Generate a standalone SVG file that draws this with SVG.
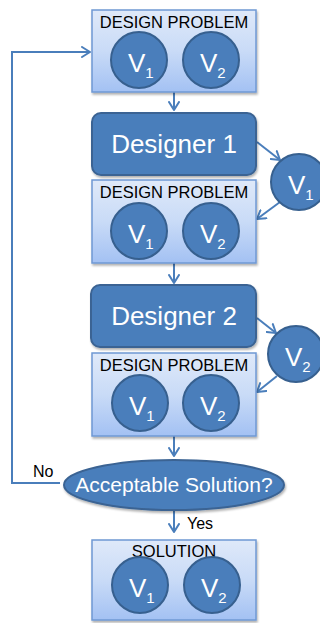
<svg xmlns="http://www.w3.org/2000/svg" width="320" height="623" viewBox="0 0 320 623">
  <defs>
    <linearGradient id="boxFill" x1="0" y1="0" x2="0" y2="1">
      <stop offset="0" stop-color="#dfe9f9"/>
      <stop offset="0.5" stop-color="#c9dbf7"/>
      <stop offset="1" stop-color="#a3c1f3"/>
    </linearGradient>
    <filter id="shadow" x="-10%" y="-10%" width="125%" height="130%">
      <feDropShadow dx="1" dy="2" stdDeviation="1.2" flood-color="#000" flood-opacity="0.3"/>
    </filter>
    <marker id="arrow" viewBox="0 0 10 12" refX="9" refY="6" markerWidth="10" markerHeight="12" markerUnits="userSpaceOnUse" orient="auto">
      <path d="M1,1 L9,6 L1,11" fill="none" stroke="#4a7ebb" stroke-width="2" stroke-linecap="round" stroke-linejoin="round"/>
    </marker>
    <!-- variable circle V with subscript -->
  </defs>
  <style>
    .box { fill: url(#boxFill); stroke: #6f98d4; stroke-width: 1.5; filter: url(#shadow); }
    .designer { fill: #4a7ebb; stroke: #3a6393; stroke-width: 2; filter: url(#shadow); }
    .var { fill: #4a7ebb; stroke: #37608f; stroke-width: 2; }
    .title { font-family: "Liberation Sans", Arial, sans-serif; font-size: 16.5px; fill: #000; text-anchor: middle; }
    .vtxt { font-family: "Liberation Sans", Arial, sans-serif; font-size: 26px; fill: #fff; }
    .vsub { font-size: 15px; }
    .dtxt { font-family: "Liberation Sans", Arial, sans-serif; font-size: 26px; fill: #fff; text-anchor: middle; }
    .etxt { font-family: "Liberation Sans", Arial, sans-serif; font-size: 21px; fill: #fff; text-anchor: middle; }
    .lbl { font-family: "Liberation Sans", Arial, sans-serif; font-size: 16px; fill: #000; }
    .conn { fill: none; stroke: #4a7ebb; stroke-width: 2; marker-end: url(#arrow); }
  </style>

  <!-- connectors -->
  <g id="connectors">
    <path class="conn" d="M174,92 V110"/>
    <path class="conn" d="M257,142 L280,160"/>
    <path class="conn" d="M280,202 L257,219"/>
    <path class="conn" d="M174,263 V283"/>
    <path class="conn" d="M257,318 L276,333"/>
    <path class="conn" d="M277,376 L257,392"/>
    <path class="conn" d="M174,436 V456"/>
    <path class="conn" d="M60,483 H12 V52 H90"/>
    <path class="conn" d="M174,510 V532"/>
    <text class="lbl" x="33" y="477">No</text>
    <text class="lbl" x="187" y="529">Yes</text>
  </g>

  <!-- design problem, initial -->
  <g id="problem0">
    <rect class="box" x="92" y="10" width="164" height="82"/>
    <text class="title" x="174" y="28">DESIGN PROBLEM</text>
    <circle class="var" cx="139" cy="60" r="28"/>
    <text class="vtxt" x="128" y="72">V<tspan class="vsub" dy="6">1</tspan></text>
    <circle class="var" cx="211" cy="60" r="28"/>
    <text class="vtxt" x="200" y="72">V<tspan class="vsub" dy="6">2</tspan></text>
  </g>

  <!-- designer 1 -->
  <g id="designer1">
    <rect class="designer" x="92" y="113" width="164" height="62" rx="9"/>
    <text class="dtxt" x="174" y="153">Designer 1</text>
  </g>

  <!-- variable V1 passed out by designer 1 -->
  <g id="out1">
    <circle class="var" cx="299" cy="182" r="28"/>
    <text class="vtxt" x="288" y="194">V<tspan class="vsub" dy="6">1</tspan></text>
  </g>

  <!-- design problem after designer 1 -->
  <g id="problem1">
    <rect class="box" x="92" y="180" width="164" height="83"/>
    <text class="title" x="174" y="198">DESIGN PROBLEM</text>
    <circle class="var" cx="139" cy="231" r="28"/>
    <text class="vtxt" x="128" y="243">V<tspan class="vsub" dy="6">1</tspan></text>
    <circle class="var" cx="211" cy="231" r="28"/>
    <text class="vtxt" x="200" y="243">V<tspan class="vsub" dy="6">2</tspan></text>
  </g>

  <!-- designer 2 -->
  <g id="designer2">
    <rect class="designer" x="91" y="285" width="165" height="62" rx="9"/>
    <text class="dtxt" x="174" y="325">Designer 2</text>
  </g>

  <!-- variable V2 passed out by designer 2 -->
  <g id="out2">
    <circle class="var" cx="296" cy="354" r="28"/>
    <text class="vtxt" x="285" y="366">V<tspan class="vsub" dy="6">2</tspan></text>
  </g>

  <!-- design problem after designer 2 -->
  <g id="problem2">
    <rect class="box" x="92" y="353" width="164" height="83"/>
    <text class="title" x="174" y="371">DESIGN PROBLEM</text>
    <circle class="var" cx="140" cy="403" r="28"/>
    <text class="vtxt" x="129" y="415">V<tspan class="vsub" dy="6">1</tspan></text>
    <circle class="var" cx="211" cy="403" r="28"/>
    <text class="vtxt" x="200" y="415">V<tspan class="vsub" dy="6">2</tspan></text>
  </g>

  <!-- decision -->
  <g id="decision">
    <ellipse cx="174" cy="485" rx="110" ry="25" fill="#4a7ebb" stroke="#3a6393" stroke-width="2" filter="url(#shadow)"/>
    <text class="etxt" x="174" y="492">Acceptable Solution?</text>
  </g>

  <!-- solution -->
  <g id="solution">
    <rect class="box" x="92" y="540" width="164" height="80"/>
    <text class="title" x="174" y="557">SOLUTION</text>
    <circle class="var" cx="140" cy="585" r="28"/>
    <text class="vtxt" x="129" y="597">V<tspan class="vsub" dy="6">1</tspan></text>
    <circle class="var" cx="212" cy="585" r="28"/>
    <text class="vtxt" x="201" y="597">V<tspan class="vsub" dy="6">2</tspan></text>
  </g>
</svg>
